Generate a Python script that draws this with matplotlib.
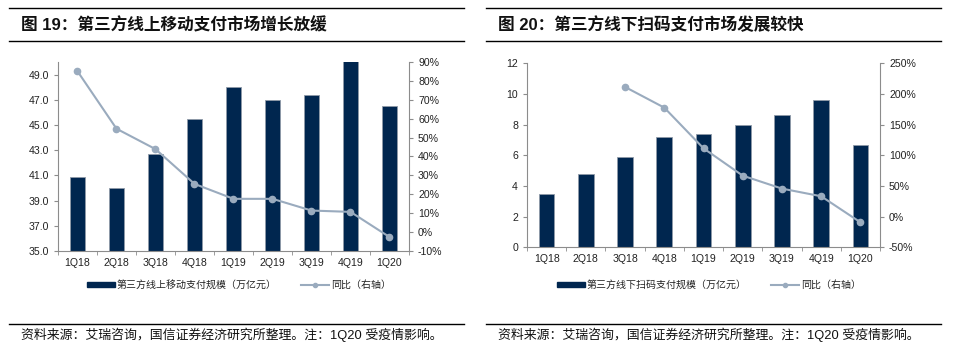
import matplotlib
matplotlib.use("Agg")
import matplotlib.pyplot as plt
from matplotlib.lines import Line2D
from matplotlib.patches import Patch
from matplotlib.ticker import FuncFormatter, MultipleLocator

plt.rcParams['font.family'] = ['Liberation Sans', 'Noto Sans CJK SC', 'DejaVu Sans']

quarters = ['1Q18', '2Q18', '3Q18', '4Q18', '1Q19', '2Q19', '3Q19', '4Q19', '1Q20']

# chart 19: online mobile payment (trillion yuan) and yoy (%)
online_scale = [40.9, 40.0, 42.7, 45.5, 48.0, 47.0, 47.4, 50.2, 46.5]
online_yoy = [85.1, 54.7, 43.9, 25.5, 17.6, 17.6, 11.4, 10.7, -2.6]

# chart 20: offline QR payment (trillion yuan) and yoy (%)
offline_scale = [3.5, 4.8, 5.9, 7.2, 7.4, 8.0, 8.6, 9.6, 6.7]
offline_yoy = [None, None, 211.4, 177.7, 111.4, 66.8, 45.7, 33.2, -9.2]

titles = ['图 19：第三方线上移动支付市场增长放缓', '图 20：第三方线下扫码支付市场发展较快']
bar_labels = ['第三方线上移动支付规模（万亿元）', '第三方线下扫码支付规模（万亿元）']
line_label = '同比（右轴）'
source = '资料来源：艾瑞咨询，国信证券经济研究所整理。注：1Q20 受疫情影响。'

BAR = '#00264f'
LINE = '#9aabbe'
AXC = '#8c8c8c'

fig = plt.figure(figsize=(9.54, 3.52), dpi=100)


def px(x, y):
    return x / 954, 1 - y / 352


def style_axes(ax, ax2):
    for a in (ax, ax2):
        for s in a.spines.values():
            s.set_visible(False)
        a.tick_params(labelsize=7.6, colors='#222222', length=3, width=0.8)
    ax.spines['left'].set_visible(True)
    ax.spines['bottom'].set_visible(True)
    ax2.spines['right'].set_visible(True)
    ax.spines['left'].set_color(AXC)
    ax.spines['bottom'].set_color(AXC)
    ax2.spines['right'].set_color(AXC)
    ax.tick_params(axis='both', color=AXC)
    ax2.tick_params(axis='y', color=AXC)
    ax.set_xlim(-0.5, len(quarters) - 0.5)
    ax.set_xticks(range(len(quarters)))
    ax.set_xticklabels(quarters)
    ax.xaxis.set_minor_locator(MultipleLocator(1, offset=0.5))
    ax.tick_params(axis='x', which='major', length=0, pad=5)
    ax.tick_params(axis='x', which='minor', length=3, color=AXC)


def panel(rect, scale, yoy, ylim, ystep, yfmt, y2lim, y2step, title, bar_label,
          x0, x1, leg_x):
    ax = fig.add_axes(rect)
    ax2 = ax.twinx()
    ax.set_zorder(ax2.get_zorder() - 1)
    ax.patch.set_visible(False)
    xs = list(range(len(quarters)))
    ax.bar(xs, scale, width=0.4, color=BAR, edgecolor='#8f9aa8', linewidth=0.6)
    pts = [(x, v) for x, v in zip(xs, yoy) if v is not None]
    ax2.plot([p[0] for p in pts], [p[1] for p in pts], color=LINE, lw=1.5,
             marker='o', ms=4.5)
    ax.set_ylim(*ylim)
    ax.yaxis.set_major_locator(MultipleLocator(ystep, offset=ylim[0] % ystep))
    ax.yaxis.set_major_formatter(FuncFormatter(yfmt))
    ax2.set_ylim(*y2lim)
    ax2.yaxis.set_major_locator(MultipleLocator(y2step))
    ax2.yaxis.set_major_formatter(FuncFormatter(lambda v, p: f'{v:.0f}%'))
    style_axes(ax, ax2)

    # header rules and title
    for y in (8, 41):
        fig.add_artist(Line2D([x0 / 954, x1 / 954], [1 - y / 352] * 2,
                              color='black', lw=1.0))
    fig.text(*px(x0 + 12, 25), title, fontsize=12, fontweight='bold',
             va='center', ha='left', color='#111111')

    # legend
    handles = [Patch(facecolor=BAR, edgecolor=BAR),
               Line2D([], [], color=LINE, lw=1.5, marker='o', ms=3)]
    leg = fig.legend(handles, [bar_label, line_label], ncol=2, frameon=False,
                     loc='center left', bbox_to_anchor=px(leg_x, 285),
                     fontsize=7.2, handlelength=2.8, handleheight=0.5,
                     columnspacing=2.4, handletextpad=0.2)
    for t in leg.get_texts():
        t.set_color('#222222')

    # footer
    fig.add_artist(Line2D([x0 / 954, x1 / 954], [1 - 324 / 352] * 2,
                          color='black', lw=1.0))
    fig.text(*px(x0 + 12, 335), source, fontsize=9.3, va='center', ha='left',
             color='#111111')


panel([58 / 954, 1 - 251 / 352, 351 / 954, 189 / 352], online_scale, online_yoy,
      (35, 50), 2, lambda v, p: f'{v:.1f}', (-10, 90), 10,
      titles[0], bar_labels[0], 9, 464, 78)

panel([527 / 954, 1 - 247.3 / 352, 353 / 954, 184 / 352], offline_scale, offline_yoy,
      (0, 12), 2, lambda v, p: f'{v:.0f}', (-50, 250), 50,
      titles[1], bar_labels[1], 486, 941, 548)

fig.savefig('out.png', dpi=100, facecolor='white')
